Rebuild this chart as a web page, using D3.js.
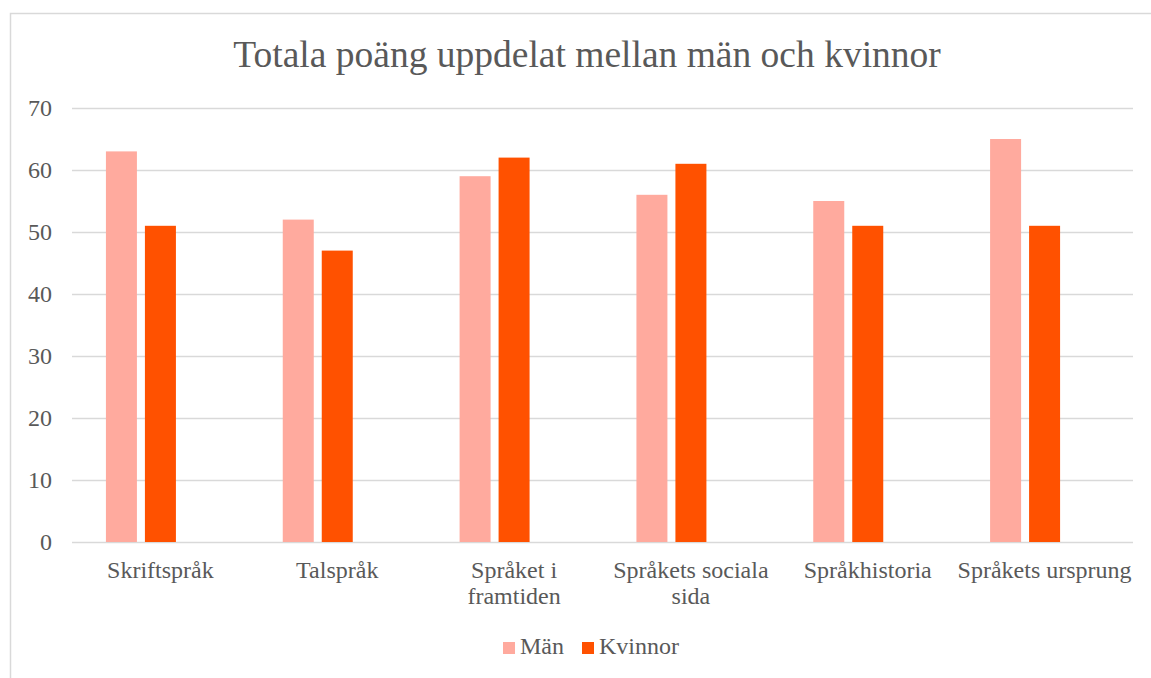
<!DOCTYPE html>
<html>
<head>
<meta charset="utf-8">
<script src="https://cdn.jsdelivr.net/npm/d3@7"></script>
<style>
  body { margin: 0; background: #fff; }
  text { font-family: "Liberation Serif", "Times New Roman", serif; fill: #595959; }
</style>
</head>
<body>
<svg id="chart" width="1151" height="678"></svg>
<script>
var categories = [["Skriftspråk"], ["Talspråk"], ["Språket i", "framtiden"], ["Språkets sociala", "sida"], ["Språkhistoria"], ["Språkets ursprung"]];
var seriesNames = ["Män", "Kvinnor"];
var man = [63, 52, 59, 56, 55, 65];
var kvinnor = [51, 47, 62, 61, 51, 51];
var yTicks = [0, 10, 20, 30, 40, 50, 60, 70];
var colors = ["#FFAA9E", "#FF5100"];

var svg = d3.select('#chart');

// outer chart frame (runs past the window on the right and bottom)
svg.append('rect')
  .attr('x', 10.5).attr('y', 13.5)
  .attr('width', 1160).attr('height', 700)
  .attr('fill', 'none').attr('stroke', '#d9d9d9').attr('stroke-width', 1.5);

svg.append('text')
  .attr('x', 587).attr('y', 67)
  .attr('text-anchor', 'middle')
  .style('font-size', '37.5px')
  .text('Totala poäng uppdelat mellan män och kvinnor');

var plotLeft = 72, plotRight = 1133, plotTop = 108, plotBottom = 542;

var y = d3.scaleLinear().domain([0, 70]).range([plotBottom, plotTop]);
var x = d3.scaleBand().domain(d3.range(categories.length)).range([plotLeft, plotRight]).paddingOuter(0).paddingInner(0);
// three slots per category, the last is empty (as in the original sheet)
var xs = d3.scaleBand().domain([0, 1, 2]).range([0, x.bandwidth()]).paddingInner(0.205).paddingOuter(0.87);

// gridlines
svg.append('g').selectAll('line')
  .data(yTicks)
  .enter()
  .append('line')
  .attr('x1', plotLeft).attr('x2', plotRight)
  .attr('y1', function(d) { return Math.round(y(d)) + 0.5; })
  .attr('y2', function(d) { return Math.round(y(d)) + 0.5; })
  .attr('stroke', '#d9d9d9').attr('stroke-width', 1.5);

// y labels
svg.append('g').selectAll('text')
  .data(yTicks)
  .enter()
  .append('text')
  .attr('x', 52)
  .attr('y', function(d) { return y(d) + 8; })
  .attr('text-anchor', 'end')
  .style('font-size', '24px')
  .text(function(d) { return d; });

var series = [man, kvinnor];
series.forEach(function(vals, s) {
  svg.append('g').selectAll('rect')
    .data(vals)
    .enter()
    .append('rect')
    .attr('x', function(d, i) { return x(i) + xs(s); })
    .attr('width', xs.bandwidth())
    .attr('y', function(d) { return y(d); })
    .attr('height', function(d) { return plotBottom - y(d); })
    .attr('fill', colors[s]);
});

// category labels
var cat = svg.append('g').selectAll('text')
  .data(categories)
  .enter()
  .append('text')
  .attr('text-anchor', 'middle')
  .style('font-size', '24px')
  .attr('transform', function(d, i) { return 'translate(' + (x(i) + x.bandwidth() / 2) + ',578)'; });
cat.selectAll('tspan')
  .data(function(d) { return d; })
  .enter()
  .append('tspan')
  .attr('x', 0)
  .attr('y', function(d, i) { return i * 26; })
  .text(function(d) { return d; });

// legend
var legX = [503, 582];
var leg = svg.append('g').selectAll('g')
  .data(seriesNames)
  .enter()
  .append('g')
  .attr('transform', function(d, i) { return 'translate(' + legX[i] + ',642)'; });
leg.append('rect')
  .attr('width', 12).attr('height', 12)
  .attr('fill', function(d, i) { return colors[i]; });
leg.append('text')
  .attr('x', 17).attr('y', 12)
  .style('font-size', '24px')
  .text(function(d) { return d; });
</script>
</body>
</html>
